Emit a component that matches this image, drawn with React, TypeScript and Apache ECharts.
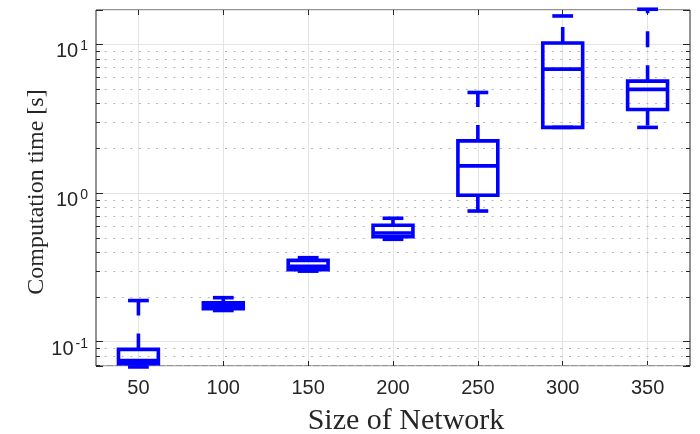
import React, { useEffect, useRef } from 'react';
import * as echarts from 'echarts';

const categories = ['50', '100', '150', '200', '250', '300', '350'];
const lowerWhisker = [0.0676, 0.162, 0.298, 0.488, 0.756, 2.76, 2.76];
const q1 = [0.071, 0.1666, 0.305, 0.508, 0.965, 2.76, 3.64];
const median = [0.0747, 0.1745, 0.321, 0.538, 1.52, 6.81, 4.97];
const q3 = [0.0887, 0.1828, 0.352, 0.606, 2.24, 10.2, 5.65];
const upperWhisker = [0.189, 0.1976, 0.367, 0.676, 4.74, 15.5, 17.2];
const minorTicks = [0.07, 0.08, 0.09, 0.2, 0.3, 0.4, 0.5, 0.6, 0.7, 0.8, 0.9, 2, 3, 4, 5, 6, 7, 8, 9];
const yMin = 0.0686;
const yMax = 17;
const xTitle = 'Size of Network';
const yTitle = 'Computation time [s]';

const AXIS_COLOR = '#262626';
const BLUE = '#0000ff';

export default function App() {
  const ref = useRef<HTMLDivElement>(null);
  useEffect(() => {
    if (!ref.current) return;
    const chart = echarts.init(ref.current, null, { renderer: 'svg' });
    const boxData = categories.map((_, i) => [i, lowerWhisker[i], q1[i], median[i], q3[i], upperWhisker[i]]);
    const labelFmt = (v: number) => {
      const e = Math.log10(v);
      const r = Math.round(e);
      if (Math.abs(e - r) > 1e-6) return '';
      return '{base|10}{sup|' + r + '}';
    };
    const option: any = {
      animation: false,
      grid: {
        left: 96, right: 10, top: 10, bottom: 68,
        show: true, borderColor: AXIS_COLOR, borderWidth: 1, backgroundColor: 'transparent',
      },
      xAxis: [
        {
          type: 'category', data: categories, position: 'bottom',
          axisLine: { show: false },
          axisTick: { show: true, inside: true, alignWithLabel: true, length: 5, interval: 0, lineStyle: { color: AXIS_COLOR } },
          axisLabel: { interval: 0, margin: 11, fontSize: 20, fontFamily: 'Liberation Sans', color: AXIS_COLOR },
          splitLine: { show: true, alignWithLabel: true, interval: 0, lineStyle: { color: '#e3e3e3', width: 1 } },
        },
        {
          type: 'category', data: categories, position: 'top',
          axisLine: { show: false },
          axisTick: { show: true, inside: true, alignWithLabel: true, length: 5, interval: 0, lineStyle: { color: AXIS_COLOR } },
          axisLabel: { show: false },
          splitLine: { show: false },
        },
      ],
      yAxis: [
        {
          type: 'log', logBase: 10, min: yMin, max: yMax, position: 'left',
          axisLine: { show: false },
          axisTick: { show: true, inside: true, length: 7, lineStyle: { color: AXIS_COLOR } },
          axisLabel: {
            margin: 8, formatter: labelFmt, padding: [10, 0, 0, 0],
            rich: {
              base: { fontSize: 20, fontFamily: 'Liberation Sans', color: AXIS_COLOR, lineHeight: 22, verticalAlign: 'bottom' },
              sup: { fontSize: 14, fontFamily: 'Liberation Sans', color: AXIS_COLOR, lineHeight: 12, verticalAlign: 'top', padding: [0, 0, 0, 2] },
            },
          },
          splitLine: { show: true, lineStyle: { color: '#e3e3e3', width: 1 } },
        },
        {
          type: 'log', logBase: 10, min: yMin, max: yMax, position: 'right',
          axisLine: { show: false },
          axisTick: { show: true, inside: true, length: 7, lineStyle: { color: AXIS_COLOR } },
          axisLabel: { show: false },
          splitLine: { show: false },
        },
      ],
      graphic: [
        {
          type: 'text', x: 406, y: 418,
          style: { text: xTitle, font: '30px "Liberation Serif"', lineHeight: 30, fill: AXIS_COLOR, align: 'center', verticalAlign: 'middle' },
        },
        {
          type: 'text', x: 35, y: 192, rotation: Math.PI / 2,
          style: { text: yTitle, font: '24px "Liberation Serif"', fill: AXIS_COLOR, align: 'center', verticalAlign: 'middle' },
        },
      ],
      series: [
        {
          type: 'custom', name: 'minor', xAxisIndex: 0, yAxisIndex: 0, z: 1, silent: true,
          data: minorTicks.map((v) => [0, v]),
          renderItem: (params: any, api: any) => {
            const cs = params.coordSys;
            const y = Math.round(api.coord([0, api.value(1)])[1]) + 0.5;
            return {
              type: 'group',
              children: [
                { type: 'line', shape: { x1: cs.x, y1: y, x2: cs.x + cs.width, y2: y }, style: { stroke: '#b8b8b8', lineWidth: 1, lineDash: [2, 6.6] } },
                { type: 'line', shape: { x1: cs.x, y1: y, x2: cs.x + 4, y2: y }, style: { stroke: AXIS_COLOR, lineWidth: 1 } },
                { type: 'line', shape: { x1: cs.x + cs.width - 4, y1: y, x2: cs.x + cs.width, y2: y }, style: { stroke: AXIS_COLOR, lineWidth: 1 } },
              ],
            };
          },
        },
        {
          type: 'custom', name: 'box', xAxisIndex: 0, yAxisIndex: 0, z: 5, silent: true,
          encode: { x: 0, y: [1, 2, 3, 4, 5] },
          data: boxData,
          renderItem: (params: any, api: any) => {
            const idx = api.value(0);
            const lo = api.coord([idx, api.value(1)]);
            const b1 = api.coord([idx, api.value(2)]);
            const md = api.coord([idx, api.value(3)]);
            const b3 = api.coord([idx, api.value(4)]);
            const hi = api.coord([idx, api.value(5)]);
            const band = api.size([1, 1], [idx, 1])[0];
            const cx = lo[0];
            const bw = band * 0.47;
            const cw = band * 0.245;
            const st = { stroke: BLUE, lineWidth: 3.6, fill: 'none' };
            return {
              type: 'group',
              children: [
                { type: 'line', shape: { x1: cx, y1: b3[1], x2: cx, y2: hi[1] }, style: { ...st, lineDash: [16, 18] } },
                { type: 'line', shape: { x1: cx, y1: b1[1], x2: cx, y2: lo[1] }, style: { ...st, lineDash: [16, 18] } },
                { type: 'line', shape: { x1: cx - cw / 2, y1: hi[1], x2: cx + cw / 2, y2: hi[1] }, style: st },
                { type: 'line', shape: { x1: cx - cw / 2, y1: lo[1], x2: cx + cw / 2, y2: lo[1] }, style: st },
                { type: 'rect', shape: { x: cx - bw / 2, y: b3[1], width: bw, height: b1[1] - b3[1] }, style: st },
                { type: 'line', shape: { x1: cx - bw / 2, y1: md[1], x2: cx + bw / 2, y2: md[1] }, style: st },
              ],
            };
          },
        },
      ],
    };
    chart.setOption(option);
    return () => chart.dispose();
  }, []);
  return <div ref={ref} style={{ position: 'fixed', left: 0, top: 0, width: 700, height: 434 }} />;
}
